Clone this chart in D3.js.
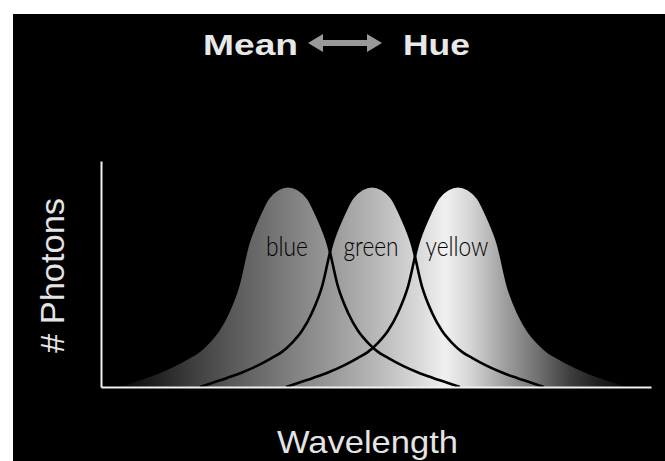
<!DOCTYPE html>
<html>
<head>
<meta charset="utf-8">
<script src="https://cdn.jsdelivr.net/npm/d3@7"></script>
<style>
  body { margin: 0; background: #fff; }
</style>
</head>
<body>
<div id="chart"></div>
<script>
// three photon distributions, same shape, shifted along wavelength
const colourNames = ["blue", "green", "yellow"];
const peakWavelengths = [187, 271, 357];
const labelWidths = [42, 55, 63];

// half-profile of a curve: distance from the peak -> relative photon count
const profileOffsets = [0, 10, 20, 30, 40, 50, 60, 70, 80, 90, 100, 115, 130, 145, 160, 172];
const profileHeights = [1, 0.985, 0.94, 0.84, 0.71, 0.5, 0.37, 0.28, 0.22, 0.175, 0.145, 0.105, 0.072, 0.045, 0.02, 0];

// grey ramp under the curves (wavelength -> grey)
const rampStops = [19, 49, 89, 132, 182, 232, 276, 319, 344, 369, 402, 436, 469, 502, 529];
const rampGreys = ["#080808", "#1c1c1c", "#3c3c3c", "#5a5a5a", "#7a7a7a", "#9a9a9a", "#b8b8b8",
                   "#dadada", "#f0f0f0", "#d6d6d6", "#a2a2a2", "#727272", "#3e3e3e", "#1a1a1a", "#080808"];

function drawChart() {
    const width = 665, height = 461;

    const svg = d3.select("#chart").append("svg")
        .attr("width", width)
        .attr("height", height);

    svg.append("rect")
        .attr("x", 13).attr("y", 14)
        .attr("width", width - 13).attr("height", height - 14)
        .attr("fill", "#000");

    const x = d3.scaleLinear().domain([0, 550]).range([101, 651]);
    const y = d3.scaleLinear().domain([0, 1.125]).range([387, 161]);

    const grad = svg.append("defs").append("linearGradient")
        .attr("id", "ramp")
        .attr("gradientUnits", "userSpaceOnUse")
        .attr("x1", x(0)).attr("x2", x(550))
        .attr("y1", 0).attr("y2", 0);
    grad.selectAll("stop").data(rampStops).join("stop")
        .attr("offset", d => d / 550)
        .attr("stop-color", (d, i) => rampGreys[i]);

    const curves = peakWavelengths.map((m, k) => {
        const pts = [];
        for (let i = profileOffsets.length - 1; i > 0; i--) {
            pts.push({w: m - profileOffsets[i], h: profileHeights[i]});
        }
        for (let i = 0; i < profileOffsets.length; i++) {
            pts.push({w: m + profileOffsets[i], h: profileHeights[i]});
        }
        return {name: colourNames[k], peak: m, labelW: labelWidths[k], pts};
    });

    const area = d3.area()
        .x(d => x(d.w)).y0(y(0)).y1(d => y(d.h))
        .curve(d3.curveMonotoneX);
    const line = d3.line()
        .x(d => x(d.w)).y(d => y(d.h))
        .curve(d3.curveMonotoneX);

    svg.append("g").selectAll("path").data(curves).join("path")
        .attr("d", d => area(d.pts))
        .attr("fill", "url(#ramp)");

    svg.append("g").selectAll("path").data(curves).join("path")
        .attr("d", d => line(d.pts))
        .attr("fill", "none")
        .attr("stroke", "#000")
        .attr("stroke-width", 2.6);

    svg.append("g").selectAll("text").data(curves).join("text")
        .attr("x", d => x(d.peak) - 1 - d.labelW / 2)
        .attr("y", y(0.65))
        .attr("font-family", "Lato, 'DejaVu Sans', sans-serif")
        .attr("font-weight", 300)
        .attr("font-size", "27px")
        .attr("textLength", d => d.labelW)
        .attr("lengthAdjust", "spacingAndGlyphs")
        .attr("fill", "#000")
        .text(d => d.name);

    // axes: plain white lines, no ticks
    const xAxis = svg.append("g")
        .attr("transform", `translate(0,${y(0)})`)
        .call(d3.axisBottom(x).tickValues([]).tickSizeOuter(0));
    const yAxis = svg.append("g")
        .attr("transform", `translate(${x(0)},0)`)
        .call(d3.axisLeft(y).tickValues([]).tickSizeOuter(0));
    [xAxis, yAxis].forEach(g => g.select(".domain")
        .attr("stroke", "#f2f2f2").attr("stroke-width", 2));

    // title
    svg.append("text")
        .attr("x", 203).attr("y", 55)
        .attr("font-family", "'Liberation Sans', Arial, sans-serif")
        .attr("font-weight", "bold").attr("font-size", "30px")
        .attr("textLength", 95).attr("lengthAdjust", "spacingAndGlyphs")
        .attr("fill", "#e8e8e8")
        .text("Mean");
    svg.append("text")
        .attr("x", 403).attr("y", 55)
        .attr("font-family", "'Liberation Sans', Arial, sans-serif")
        .attr("font-weight", "bold").attr("font-size", "30px")
        .attr("textLength", 67).attr("lengthAdjust", "spacingAndGlyphs")
        .attr("fill", "#e8e8e8")
        .text("Hue");

    // double arrow between the words
    const ax0 = 308, ax1 = 382, ay = 43, head = 15, hh = 9, sh = 3;
    const p = d3.path();
    p.moveTo(ax0, ay);
    p.lineTo(ax0 + head, ay - hh);
    p.lineTo(ax0 + head, ay - sh);
    p.lineTo(ax1 - head, ay - sh);
    p.lineTo(ax1 - head, ay - hh);
    p.lineTo(ax1, ay);
    p.lineTo(ax1 - head, ay + hh);
    p.lineTo(ax1 - head, ay + sh);
    p.lineTo(ax0 + head, ay + sh);
    p.lineTo(ax0 + head, ay + hh);
    p.closePath();
    svg.append("path").attr("d", p.toString()).attr("fill", "#999");

    // axis titles
    svg.append("text")
        .attr("transform", "translate(64,353) rotate(-90)")
        .attr("font-family", "'Liberation Sans', Arial, sans-serif")
        .attr("font-size", "34px")
        .attr("textLength", 155).attr("lengthAdjust", "spacingAndGlyphs")
        .attr("fill", "#e4e4e4")
        .text("# Photons");

    svg.append("text")
        .attr("x", 277).attr("y", 453)
        .attr("font-family", "'Liberation Sans', Arial, sans-serif")
        .attr("font-size", "32px")
        .attr("textLength", 181).attr("lengthAdjust", "spacingAndGlyphs")
        .attr("fill", "#e4e4e4")
        .text("Wavelength");
}

drawChart();
</script>
</body>
</html>
